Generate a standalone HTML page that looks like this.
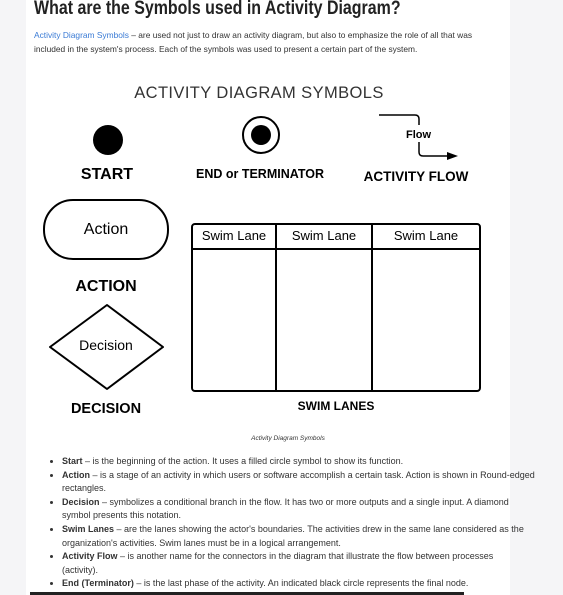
<!DOCTYPE html>
<html><head><meta charset="utf-8"><style>
html,body{margin:0;padding:0;width:563px;height:595px;overflow:hidden;background:#f5f5f7;font-family:"Liberation Sans",sans-serif;}
.card{position:absolute;left:26px;top:0;width:484px;height:595px;background:#fff;}
h1{position:absolute;left:34px;top:-2px;margin:0;font-size:19px;line-height:22px;font-weight:bold;color:#222;white-space:nowrap;transform:scaleX(0.84);transform-origin:0 0;}
.p{position:absolute;left:34px;top:28px;width:450px;font-size:8.4px;line-height:14px;color:#333;}
.p a{color:#3a7bd5;text-decoration:none}
ul{position:absolute;left:34px;top:455px;margin:0;padding:0 0 0 28px;width:480px;font-size:9px;line-height:13.6px;color:#333;white-space:nowrap}
li{margin:0}
.bar{position:absolute;left:30px;top:592px;width:434px;height:3px;background:#222}
</style></head><body>
<div class="card"></div>
<h1>What are the Symbols used in Activity Diagram?</h1>
<div class="p"><a>Activity Diagram Symbols</a> – are used not just to draw an activity diagram, but also to emphasize the role of all that was<br>included in the system's process. Each of the symbols was used to present a certain part of the system.</div>
<svg style="position:absolute;left:0;top:0" width="563" height="450" font-family="Liberation Sans, sans-serif">
<text x="259" y="98" text-anchor="middle" font-size="16.5" fill="#333" letter-spacing="0.4">ACTIVITY DIAGRAM SYMBOLS</text>
<circle cx="108" cy="140" r="15" fill="#000"/>
<text x="107" y="179" text-anchor="middle" font-size="16" font-weight="bold">START</text>
<circle cx="261" cy="135" r="18" fill="none" stroke="#000" stroke-width="2"/>
<circle cx="261" cy="135" r="10" fill="#000"/>
<text x="260" y="178" text-anchor="middle" font-size="12.5" font-weight="bold">END or TERMINATOR</text>
<path d="M379 115 H415 Q419 115 419 119 V152 Q419 156 423 156 H450" fill="none" stroke="#000" stroke-width="1.5"/>
<rect x="404" y="125" width="30" height="17" fill="#fff"/>
<polygon points="458,156 447,152 447,160" fill="#000"/>
<text x="406" y="138" font-size="11" font-weight="bold">Flow</text>
<text x="416" y="181" text-anchor="middle" font-size="13.5" font-weight="bold">ACTIVITY FLOW</text>
<rect x="44" y="200" width="124" height="59" rx="29" fill="none" stroke="#000" stroke-width="2"/>
<text x="106" y="234" text-anchor="middle" font-size="16">Action</text>
<text x="106" y="291" text-anchor="middle" font-size="16" font-weight="bold">ACTION</text>
<polygon points="107,305 163,347 107,389 50,347" fill="none" stroke="#000" stroke-width="2" stroke-linejoin="round"/>
<text x="106" y="350" text-anchor="middle" font-size="14">Decision</text>
<text x="106" y="413" text-anchor="middle" font-size="14.5" font-weight="bold">DECISION</text>
<rect x="192" y="224" width="288" height="167" rx="3" fill="none" stroke="#000" stroke-width="2"/>
<line x1="192" y1="249" x2="480" y2="249" stroke="#000" stroke-width="2"/>
<line x1="276" y1="224" x2="276" y2="391" stroke="#000" stroke-width="2"/>
<line x1="372" y1="224" x2="372" y2="391" stroke="#000" stroke-width="2"/>
<text x="234" y="240" text-anchor="middle" font-size="13">Swim Lane</text>
<text x="324" y="240" text-anchor="middle" font-size="13">Swim Lane</text>
<text x="426" y="240" text-anchor="middle" font-size="13">Swim Lane</text>
<text x="336" y="410" text-anchor="middle" font-size="12" font-weight="bold">SWIM LANES</text>
<text x="288" y="440" text-anchor="middle" font-size="6.5" font-style="italic" fill="#333">Activity Diagram Symbols</text>
</svg>
<ul>
<li><b>Start</b> – is the beginning of the action. It uses a filled circle symbol to show its function.</li>
<li><b>Action</b> – is a stage of an activity in which users or software accomplish a certain task. Action is shown in Round-edged<br>rectangles.</li>
<li><b>Decision</b> – symbolizes a conditional branch in the flow. It has two or more outputs and a single input. A diamond<br>symbol presents this notation.</li>
<li><b>Swim Lanes</b> – are the lanes showing the actor's boundaries. The activities drew in the same lane considered as the<br>organization's activities. Swim lanes must be in a logical arrangement.</li>
<li><b>Activity Flow</b> – is another name for the connectors in the diagram that illustrate the flow between processes<br>(activity).</li>
<li><b>End (Terminator)</b> – is the last phase of the activity. An indicated black circle represents the final node.</li>
</ul>
<div class="bar"></div>
</body></html>
